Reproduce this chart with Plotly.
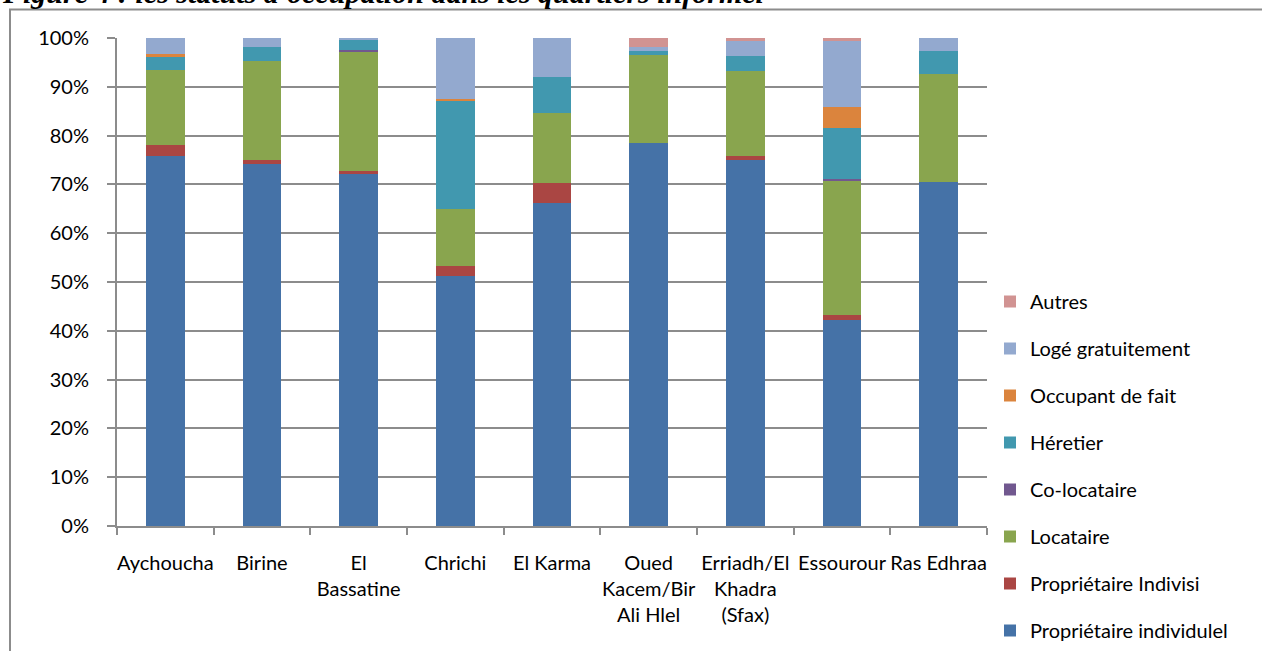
import plotly.graph_objects as go

# Quartiers (x categories) and occupancy shares in percent, bottom to top of each stack
quartiers = ["Aychoucha", "Birine", "El<br>Bassatine", "Chrichi", "El Karma",
             "Oued<br>Kacem/Bir<br>Ali Hlel", "Erriadh/El<br>Khadra<br>(Sfax)",
             "Essourour", "Ras Edhraa"]
proprietaire_individuel = [75.9, 74.2, 72.3, 51.2, 66.2, 78.4, 75.0, 42.2, 70.5]
proprietaire_indivisi = [2.1, 0.8, 0.4, 2.0, 4.0, 0.0, 0.8, 1.1, 0.0]
locataire = [15.5, 20.3, 24.5, 11.8, 14.4, 18.2, 17.4, 27.4, 22.1]
co_locataire = [0.0, 0.0, 0.3, 0.0, 0.0, 0.0, 0.0, 0.5, 0.0]
heretier = [2.7, 2.8, 2.0, 22.1, 7.5, 0.7, 3.1, 10.3, 4.8]
occupant_de_fait = [0.5, 0.0, 0.0, 0.5, 0.0, 0.0, 0.0, 4.4, 0.0]
loge_gratuitement = [3.3, 1.9, 0.5, 12.4, 7.9, 0.9, 3.0, 13.4, 2.6]
autres = [0.0, 0.0, 0.0, 0.0, 0.0, 1.8, 0.7, 0.7, 0.0]

y_ticks = [0, 10, 20, 30, 40, 50, 60, 70, 80, 90, 100]
y_tick_labels = ["0%", "10%", "20%", "30%", "40%", "50%", "60%", "70%", "80%", "90%", "100%"]

series = [
    ("Propriétaire individulel", proprietaire_individuel, "#4572A7"),
    ("Propriétaire Indivisi", proprietaire_indivisi, "#AA4643"),
    ("Locataire", locataire, "#89A54E"),
    ("Co-locataire", co_locataire, "#71588F"),
    ("Héretier", heretier, "#4198AF"),
    ("Occupant de fait", occupant_de_fait, "#DB843D"),
    ("Logé gratuitement", loge_gratuitement, "#93A9CF"),
    ("Autres", autres, "#D19392"),
]

FONT = "Lato"
GRID = "#8c8c8c"

# Plot-area geometry in pixels (page is 1262 x 651)
W, H = 1262, 651
L, R, T, B = 117, 987, 38, 526


def px_x(x):
    return (x - L) / (R - L)


def px_y(y):
    return (B - y) / (B - T)


fig = go.Figure()
for i, (name, values, color) in enumerate(series):
    fig.add_trace(go.Bar(
        x=quartiers, y=values, name=name,
        marker=dict(color=color, line=dict(width=0)),
        legendgroup=f"g{i}", legendrank=100 - i,
    ))

fig.update_layout(
    width=W, height=H,
    barmode="stack", bargap=0.6,
    plot_bgcolor="white", paper_bgcolor="white",
    margin=dict(l=L, r=W - R, t=T, b=H - B, pad=0, autoexpand=False),
    font=dict(family=FONT, size=20, color="#000000"),
    showlegend=True,
    legend=dict(
        traceorder="grouped", tracegroupgap=18,
        x=px_x(990), xanchor="left", y=px_y(282), yanchor="top",
        font=dict(family=FONT, size=20, color="#000000"),
        bgcolor="rgba(0,0,0,0)", itemwidth=30,
    ),
    xaxis=dict(
        type="category", showgrid=False, automargin=False, tickangle=0,
        showline=True, linecolor=GRID, linewidth=2,
        ticks="outside", tickson="boundaries", ticklen=7, tickcolor=GRID, tickwidth=2,
        tickfont=dict(family=FONT, size=20, color="#000000"),
        ticklabelstandoff=18,
    ),
    yaxis=dict(
        range=[0, 100], tickvals=y_ticks, ticktext=y_tick_labels, automargin=False,
        showgrid=True, gridcolor=GRID, gridwidth=2,
        showline=True, linecolor=GRID, linewidth=2,
        ticks="outside", ticklen=8, tickcolor=GRID, tickwidth=2,
        tickfont=dict(family=FONT, size=20, color="#000000"),
        ticklabelstandoff=14, zeroline=False,
    ),
    shapes=[
        # surrounding frame of the figure box
        dict(type="rect", xref="paper", yref="paper",
             x0=px_x(10), x1=px_x(1300), y0=px_y(720), y1=px_y(9.5),
             line=dict(color=GRID, width=2), fillcolor="rgba(0,0,0,0)", layer="below"),
    ],
    annotations=[
        dict(text="Figure 4 : les statuts d'occupation dans les quartiers informel",
             xref="paper", yref="paper", x=px_x(0), y=px_y(-8),
             xanchor="left", yanchor="middle", showarrow=False,
             font=dict(family="Liberation Serif", size=30, color="#000000",
                       style="italic", weight="bold")),
    ],
)

fig.write_html("out.html")
